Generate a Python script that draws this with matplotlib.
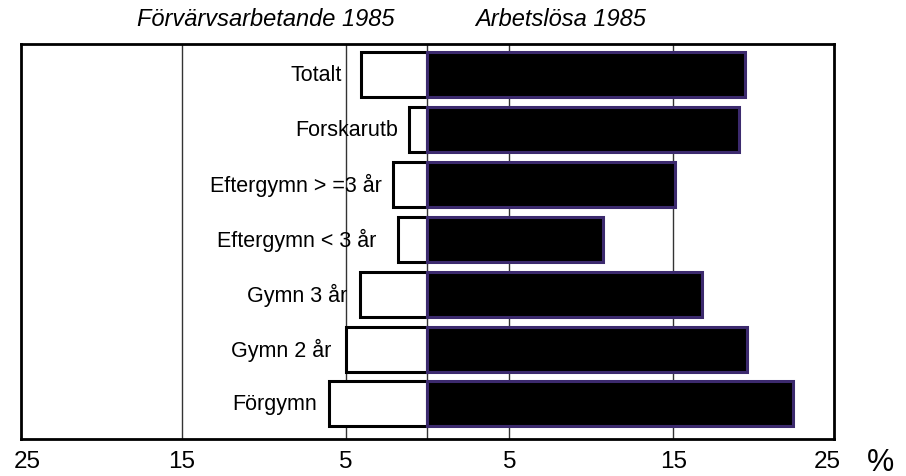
import matplotlib.pyplot as plt

plt.rcParams["font.family"] = ["Liberation Sans", "DejaVu Sans"]

# data (bottom to top)
categories = ["Förgymn", "Gymn 2 år", "Gymn 3 år", "Eftergymn < 3 år",
              "Eftergymn > =3 år", "Forskarutb", "Totalt"]
employed = [6.0, 5.0, 4.1, 1.8, 2.1, 1.15, 4.05]      # Förvärvsarbetande 1985 (left)
unemployed = [22.3, 19.5, 16.75, 10.7, 15.1, 19.0, 19.4]  # Arbetslösa 1985 (right)
label_gap = [0.75, 0.85, 0.8, 1.3, 0.7, 0.65, 1.15]

grid_x = [-15, -5, 0, 5, 15]
tick_pos = [-24.4, -15, -5, 5, 15, 24.4]
tick_labels = ["25", "15", "5", "5", "15", "25"]

fig = plt.figure(figsize=(9.06, 4.77), dpi=100)
ax = fig.add_axes([0.0232, 0.0776, 0.8973, 0.8281])

ax.set_xlim(-24.8, 24.8)
ax.set_ylim(-0.64, 6.56)

for gx in grid_x:
    ax.axvline(gx, color="#333333", lw=1.0, zorder=0)

y = range(len(categories))
ax.barh(y, [-v for v in employed], height=0.82, color="white",
        edgecolor="black", linewidth=2.2, zorder=2)
ax.barh(y, unemployed, height=0.82, color="black",
        edgecolor="#3c2a6e", linewidth=2.2, zorder=2)

for i, (cat, v, g) in enumerate(zip(categories, employed, label_gap)):
    ax.text(-v - g, i, cat, ha="right", va="center", fontsize=15.5, zorder=3)

ax.set_yticks([])
ax.set_xticks(tick_pos)
ax.set_xticklabels(tick_labels, fontsize=17.5)
ax.tick_params(axis="x", length=0, pad=8)
for sp in ax.spines.values():
    sp.set_linewidth(2.0)

fig.text(266 / 906, 1 - 20 / 477, "Förvärvsarbetande 1985", ha="center", va="center",
         fontsize=17, style="italic")
fig.text(561 / 906, 1 - 20 / 477, "Arbetslösa 1985", ha="center", va="center",
         fontsize=17, style="italic")
fig.text(880 / 906, 1 - 471 / 477, "%", ha="center", va="baseline", fontsize=22)

fig.savefig("out.png", dpi=100, facecolor="white")
